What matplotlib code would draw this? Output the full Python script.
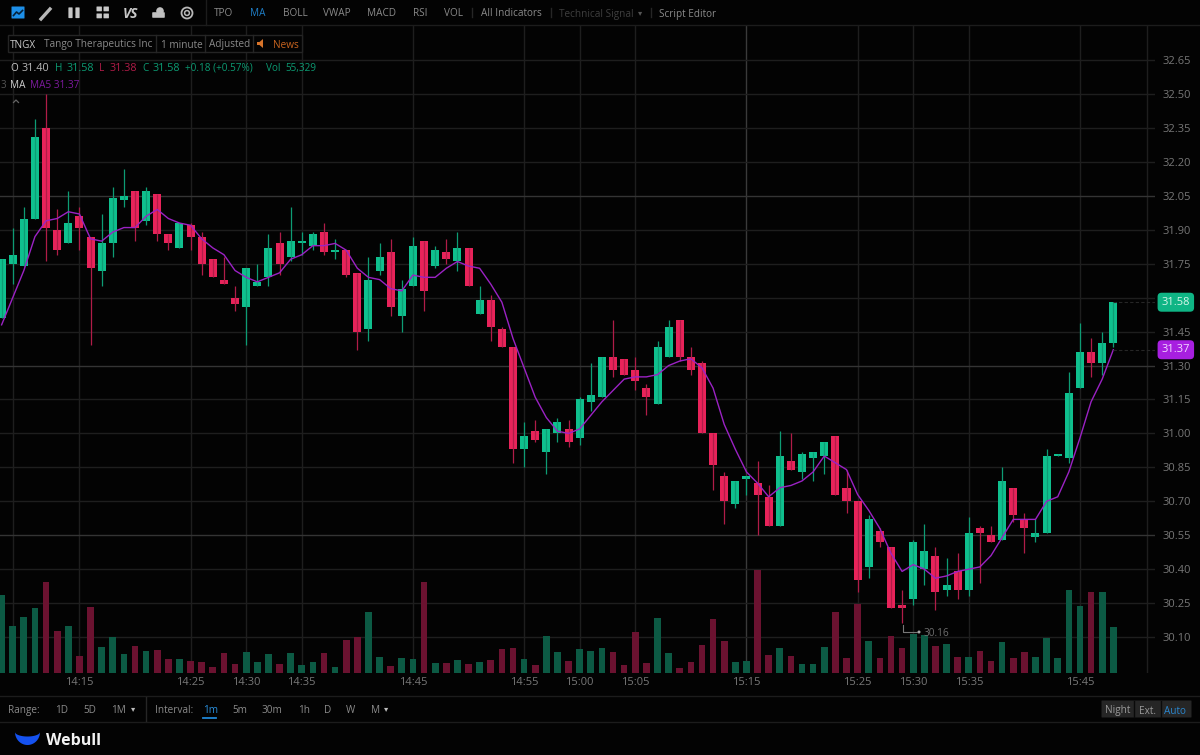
import matplotlib
matplotlib.use('Agg')
import matplotlib.pyplot as plt
from matplotlib.patches import Rectangle, Polygon, Circle, FancyBboxPatch
import numpy as np

plt.rcParams['font.family'] = ['Open Sans', 'DejaVu Sans']

# bougies 1 minute, a partir de 14:08
open_p = [31.51, 31.75, 31.74, 31.95, 32.35, 31.90, 31.84, 31.96, 31.87, 31.72,
          31.84, 32.03, 32.07, 31.94, 32.06, 31.88, 31.82, 31.92, 31.87, 31.77,
          31.68, 31.60, 31.56, 31.65, 31.69, 31.84, 31.78, 31.84, 31.83, 31.89,
          31.80, 31.81, 31.71, 31.46, 31.72, 31.80, 31.52, 31.65, 31.85, 31.74,
          31.80, 31.76, 31.82, 31.53, 31.59, 31.46, 31.38, 30.93, 31.01, 30.92,
          31.00, 31.02, 30.98, 31.14, 31.16, 31.34, 31.33, 31.28, 31.20, 31.13,
          31.34, 31.50, 31.34, 31.31, 31.00, 30.81, 30.69, 30.80, 30.78, 30.72,
          30.59, 30.88, 30.83, 30.89, 30.90, 30.99, 30.76, 30.70, 30.41, 30.57,
          30.50, 30.24, 30.27, 30.40, 30.46, 30.31, 30.39, 30.31, 30.58, 30.55,
          30.53, 30.76, 30.62, 30.54, 30.56, 30.90, 30.89, 31.20, 31.36, 31.31, 31.40]
close_p = [31.77, 31.79, 31.95, 32.31, 31.91, 31.81, 31.93, 31.91, 31.73, 31.84,
           32.04, 32.05, 31.91, 32.07, 31.88, 31.84, 31.93, 31.87, 31.75, 31.69,
           31.66, 31.57, 31.73, 31.67, 31.82, 31.75, 31.85, 31.85, 31.88, 31.80,
           31.81, 31.70, 31.45, 31.68, 31.78, 31.56, 31.64, 31.83, 31.63, 31.81,
           31.77, 31.82, 31.65, 31.59, 31.47, 31.38, 30.93, 30.99, 30.97, 31.02,
           31.05, 30.96, 31.15, 31.17, 31.34, 31.28, 31.26, 31.23, 31.16, 31.38,
           31.47, 31.34, 31.28, 31.00, 30.86, 30.70, 30.79, 30.81, 30.73, 30.59,
           30.90, 30.84, 30.91, 30.92, 30.96, 30.73, 30.70, 30.35, 30.62, 30.52,
           30.23, 30.23, 30.52, 30.48, 30.30, 30.33, 30.31, 30.56, 30.56, 30.52,
           30.79, 30.64, 30.58, 30.56, 30.90, 30.91, 31.18, 31.36, 31.31, 31.40, 31.58]
high_p = [31.77, 31.91, 32.00, 32.39, 32.50, 31.99, 32.07, 32.00, 31.87, 31.97,
          32.09, 32.17, 32.07, 32.09, 32.06, 31.88, 31.93, 31.93, 31.89, 31.77,
          31.78, 31.65, 31.73, 31.75, 31.88, 31.89, 32.00, 31.89, 31.89, 31.93,
          31.86, 31.81, 31.71, 31.78, 31.84, 31.86, 31.68, 31.87, 31.85, 31.83,
          31.86, 31.89, 31.82, 31.65, 31.61, 31.47, 31.38, 31.05, 31.06, 31.02,
          31.07, 31.06, 31.16, 31.31, 31.34, 31.50, 31.33, 31.34, 31.22, 31.41,
          31.50, 31.50, 31.38, 31.32, 31.00, 30.83, 30.79, 30.81, 30.88, 30.77,
          31.01, 31.00, 30.92, 30.92, 30.96, 30.99, 30.84, 30.70, 30.64, 30.58,
          30.50, 30.31, 30.53, 30.60, 30.50, 30.45, 30.47, 30.63, 30.59, 30.59,
          30.85, 30.76, 30.65, 30.62, 30.93, 30.91, 31.27, 31.49, 31.42, 31.45, 31.58]
low_p = [31.51, 31.66, 31.74, 31.95, 31.76, 31.79, 31.84, 31.81, 31.39, 31.65,
         31.78, 32.00, 31.85, 31.92, 31.85, 31.81, 31.82, 31.81, 31.70, 31.69,
         31.66, 31.54, 31.39, 31.65, 31.65, 31.70, 31.76, 31.79, 31.81, 31.79,
         31.77, 31.69, 31.37, 31.41, 31.70, 31.52, 31.45, 31.65, 31.54, 31.73,
         31.75, 31.72, 31.65, 31.53, 31.41, 31.38, 30.87, 30.85, 30.96, 30.82,
         30.96, 30.94, 30.95, 31.10, 31.16, 31.25, 31.26, 31.19, 31.08, 31.13,
         31.34, 31.32, 31.26, 31.00, 30.75, 30.60, 30.67, 30.73, 30.55, 30.59,
         30.59, 30.84, 30.80, 30.79, 30.82, 30.73, 30.65, 30.30, 30.36, 30.50,
         30.23, 30.16, 30.24, 30.33, 30.22, 30.28, 30.27, 30.28, 30.34, 30.52,
         30.53, 30.61, 30.47, 30.52, 30.56, 30.90, 30.87, 31.20, 31.25, 31.26, 31.38]
ma5 = [31.48, 31.60, 31.72, 31.87, 31.94, 31.95, 31.98, 31.97, 31.86, 31.85,
       31.89, 31.91, 31.91, 31.96, 31.99, 31.95, 31.93, 31.92, 31.86, 31.82,
       31.79, 31.72, 31.69, 31.67, 31.69, 31.71, 31.77, 31.79, 31.83, 31.83,
       31.84, 31.81, 31.73, 31.69, 31.68, 31.64, 31.63, 31.70, 31.69, 31.69,
       31.73, 31.76, 31.74, 31.73, 31.66, 31.58, 31.42, 31.29, 31.16, 31.07,
       31.01, 31.00, 31.02, 31.08, 31.14, 31.19, 31.24, 31.25, 31.25, 31.26,
       31.30, 31.32, 31.33, 31.29, 31.20, 31.04, 30.93, 30.83, 30.78, 30.72,
       30.76, 30.77, 30.79, 30.83, 30.90, 30.87, 30.84, 30.73, 30.66, 30.58,
       30.47, 30.39, 30.42, 30.40, 30.36, 30.37, 30.39, 30.40, 30.41, 30.46,
       30.54, 30.62, 30.62, 30.62, 30.70, 30.72, 30.83, 30.98, 31.14, 31.24, 31.37]
volume = [94900, 56600, 67500, 79200, 110300, 51300, 56600, 20200, 79600, 31100,
          43600, 23400, 32700, 26300, 27900, 16600, 17400, 14900, 13300, 7300,
          24200, 10900, 25000, 12900, 22600, 10900, 24600, 9700, 13300, 23800,
          7700, 39600, 43600, 73900, 19400, 8900, 18600, 16600, 109900, 11700,
          12100, 15400, 10500, 12900, 15400, 29500, 30700, 17000, 10100, 44400,
          25500, 14100, 29100, 26300, 30700, 25900, 9300, 49300, 12100, 67100,
          24200, 6500, 13300, 33500, 65900, 39200, 13300, 14500, 124400, 21800,
          29900, 21000, 10500, 11300, 31500, 74300, 17800, 84000, 39200, 18600,
          44800, 30700, 47300, 46100, 33100, 34700, 19800, 19400, 26700, 14500,
          37200, 18200, 25000, 19400, 42000, 18200, 100200, 80800, 97800, 97800, 55329]

price_ticks = [32.65, 32.50, 32.35, 32.20, 32.05, 31.90, 31.75, 31.60, 31.45,
               31.30, 31.15, 31.00, 30.85, 30.70, 30.55, 30.40, 30.25, 30.10]
price_labels = ['32.65', '32.50', '32.35', '32.20', '32.05', '31.90', '31.75', '', '31.45',
                '31.30', '31.15', '31.00', '30.85', '30.70', '30.55', '30.40', '30.25', '30.10']
# minutes depuis 14:08 pour les lignes verticales
time_ticks = [1, 7, 17, 22, 27, 37, 47, 52, 57, 67, 77, 82, 87, 97, 103]
time_labels = ['', '14:15', '14:25', '14:30', '14:35', '14:45', '14:55', '15:00',
               '15:05', '15:15', '15:25', '15:30', '15:35', '15:45', '']

GREEN = '#0fc08e'
RED = '#e8235a'
VOL_GREEN = '#0c5a44'
VOL_RED = '#6b1230'
PURPLE = '#9b22c4'
BG = '#030303'
LINE = '#1e1e1e'
TXT = '#8a8a8a'

W, H = 1200, 755
fig = plt.figure(figsize=(12, 7.55), dpi=100, facecolor=BG)

# zone du graphique : x de 0 a 1155 px, y de 26 a 673 px
ax = fig.add_axes([0, (H - 673) / H, 1155 / W, (673 - 26) / H], facecolor=BG)
x = np.arange(len(close_p))
ax.set_xlim(-0.144, 103.75)
ax.set_ylim(29.941, 32.801)

# volume en bas
ax_vol = ax.twinx()
ax_vol.set_ylim(0, 783500)
ax_vol.axis('off')
vol_colors = [VOL_GREEN if c >= o else VOL_RED for o, c in zip(open_p, close_p)]
ax_vol.bar(x, volume, width=0.6, color=vol_colors, linewidth=0)

# bougies + MA5
ax_price = ax.twinx()
ax_price.set_ylim(ax.get_ylim())
ax_price.axis('off')
colors = [GREEN if c >= o else RED for o, c in zip(open_p, close_p)]
wick_colors = ['#0d9c74' if c >= o else '#b01c48' for o, c in zip(open_p, close_p)]
ax_price.vlines(x, low_p, high_p, colors=wick_colors, linewidth=0.9)
bottoms = [min(o, c) for o, c in zip(open_p, close_p)]
heights = [abs(c - o) for o, c in zip(open_p, close_p)]
ax_price.bar(x, heights, bottom=bottoms, width=0.72, color=colors, linewidth=0)
ax_price.plot(x, ma5, color=PURPLE, linewidth=1.0)

# twinx remet les graduations a gauche : il faut le faire apres
ax.yaxis.tick_right()
ax.set_xticks(time_ticks)
ax.set_xticklabels(time_labels)
ax.set_yticks(price_ticks)
ax.set_yticklabels(price_labels)
ax.tick_params(axis='both', length=0, labelcolor='#777777', labelsize=8)
ax.tick_params(axis='y', pad=5.5)
ax.tick_params(axis='x', pad=3)
ax.grid(True, color=LINE, linewidth=1)
for s in list(ax.spines.values()) + list(ax_vol.spines.values()) + list(ax_price.spines.values()):
    s.set_visible(False)
for g, t in zip(ax.get_ygridlines(), price_ticks):
    if t in (32.05, 31.30, 30.55):
        g.set_color('#343434')
for g, t in zip(ax.get_xgridlines(), time_labels):
    if t == '15:15':
        g.set_color('#3a3a3a')

# dernier cours et MA a droite
ax_price.hlines([close_p[-1], ma5[-1]], x[-1], ax.get_xlim()[1], colors='#262626', linewidth=0.8,
                linestyles=(0, (3, 2)))
ax_price.annotate('%.2f' % close_p[-1], xy=(1, close_p[-1]), xycoords=ax_price.get_yaxis_transform(),
                  xytext=(15, 0), textcoords='offset points', ha='center', va='center',
                  color='#d8f5ea', fontsize=8, annotation_clip=False,
                  bbox=dict(boxstyle='round,pad=0.36', fc='#0fb585', ec='none'))
ax_price.annotate('%.2f' % ma5[-1], xy=(1, ma5[-1]), xycoords=ax_price.get_yaxis_transform(),
                  xytext=(15, 0), textcoords='offset points', ha='center', va='center',
                  color='#f3dcff', fontsize=8, annotation_clip=False,
                  bbox=dict(boxstyle='round,pad=0.36', fc='#a71fe0', ec='none'))

# interface autour du graphique, en pixels
ui = fig.add_axes([0, 0, 1, 1], facecolor='none')
ui.set_xlim(0, W)
ui.set_ylim(H, 0)
ui.axis('off')
ui.set_zorder(10)


def label(px, py, s, color=TXT, size=7.2, ha='left', **kw):
    ui.text(px, py, s, color=color, fontsize=size, ha=ha, va='center_baseline', **kw)


def hline(py, x0=0, x1=W, color='#1c1c1c'):
    ui.plot([x0, x1], [py, py], color=color, linewidth=1)


def vline(px, y0, y1, color='#262626'):
    ui.plot([px, px], [y0, y1], color=color, linewidth=1)


hline(25)
hline(696)
hline(722)
vline(206, 0, 25, '#1c1c1c')
vline(146, 697, 721)
vline(472, 8, 17)
vline(551, 8, 17)
vline(651, 8, 17)

# icones de la barre du haut
ui.add_patch(FancyBboxPatch((12, 7), 12, 11, boxstyle='round,pad=0.5', fc='#1d8fe8', ec='none'))
ui.plot([13.5, 16.5, 19, 22.5], [15.5, 12, 14, 10.5], color='#06223a', linewidth=1.2)
ui.plot([41, 50], [19, 9], color='#b8b8b8', linewidth=2.4)
ui.add_patch(FancyBboxPatch((69, 8), 3, 9.5, boxstyle='round,pad=0.6', fc='#c8c8c8', ec='none'))
ui.add_patch(FancyBboxPatch((76, 8), 3, 9.5, boxstyle='round,pad=0.6', fc='#c8c8c8', ec='none'))
for bx in (97, 104):
    for by in (7, 14):
        ui.add_patch(FancyBboxPatch((bx, by), 4.4, 3.8, boxstyle='round,pad=0.5', fc='#c8c8c8', ec='none'))
label(123, 13, 'VS', color='#c8c8c8', size=10, weight='bold', style='italic')
ui.add_patch(FancyBboxPatch((153, 13), 11, 4, boxstyle='round,pad=0.8', fc='#c0c0c0', ec='none'))
ui.add_patch(Circle((160, 11), 3.8, fc='#c0c0c0', ec='none'))
ui.add_patch(Circle((187, 13), 5.5, fc='none', ec='#b8b8b8', linewidth=1.3))
ui.add_patch(Circle((187, 13), 2.4, fc='none', ec='#b8b8b8', linewidth=1.1))

label(214, 12.5, 'TPO')
label(250, 12.5, 'MA', color='#1f7fc8')
label(283, 12.5, 'BOLL')
label(323, 12.5, 'VWAP')
label(367, 12.5, 'MACD')
label(413, 12.5, 'RSI')
label(444, 12.5, 'VOL')
label(481, 12.5, 'All Indicators')
label(559, 12.5, 'Technical Signal', color='#3e3e3e')
label(638, 12.5, '▾', color='#555555', size=6)
label(659, 12.5, 'Script Editor')

# cartouche du titre
ui.add_patch(Rectangle((8, 35), 294, 16.5, fc=BG, ec='#242424', linewidth=1))
for px in (156, 205, 253):
    vline(px, 35, 51.5)
label(10, 43.5, 'TNGX', color='#c8c8c8')
label(44, 43.5, 'Tango Therapeutics Inc', color=TXT)
label(161, 43.5, '1 minute', color=TXT)
label(209, 43.5, 'Adjusted', color=TXT)
ui.add_patch(Polygon([(257, 42), (259.5, 42), (263, 39), (263, 48), (259.5, 45), (257, 45)], fc='#d8742a', ec='none'))
label(273, 43.5, 'News', color='#c8641f')

# ligne OHLC
label(10, 67, 'O', color='#cfcfcf')
label(22, 67, '31.40', color='#b8b8b8', size=7.8)
label(55, 67, 'H', color='#0c9a72')
label(67, 67, '31.58', color='#0c9a72', size=7.8)
label(99, 67, 'L', color='#b01c48')
label(110, 67, '31.38', color='#b01c48', size=7.8)
label(142, 67, 'C', color='#0c9a72')
label(153, 67, '31.58', color='#0c9a72', size=7.8)
label(185, 67, '+0.18 (+0.57%)', color='#0c9a72')
label(266, 67, 'Vol', color='#0c9a72')
label(285, 67, '55,329', color='#0c9a72')
label(1, 84, '3', color='#555555', size=7)
label(10, 84, 'MA', color='#cfcfcf')
label(30, 84, 'MA5 31.37', color='#7d1a9e')
ui.plot([13.5, 16, 18.5], [102.5, 100, 102.5], color='#666666', linewidth=0.9)

# plus bas du jour
ui.plot([902.5, 902.5, 917], [625, 632, 632], color='#777777', linewidth=0.8)
ui.add_patch(Circle((919, 632), 1.5, fc='#aaaaaa', ec='none'))
label(924, 632.5, '30.16', color='#6e6e6e')

# barre du bas
label(8, 709, 'Range:')
label(55, 709, '1D')
label(83, 709, '5D')
label(111, 709, '1M')
label(131, 709, '▾', color='#bbbbbb', size=6)
label(155, 709, 'Interval:')
label(203, 709, '1m', color='#2a8fdc')
ui.plot([203, 216], [718, 718], color='#1f86d6', linewidth=1.3)
label(232, 709, '5m')
label(262, 709, '30m')
label(298, 709, '1h')
label(324, 709, 'D')
label(346, 709, 'W')
label(371, 709, 'M')
label(384, 709, '▾', color='#bbbbbb', size=6)

ui.add_patch(FancyBboxPatch((1102, 701), 89, 16, boxstyle='round,pad=0.5', fc='#262626', ec='none'))
vline(1134, 701, 717, '#0a0a0a')
vline(1161, 701, 717, '#0a0a0a')
label(1118, 709.5, 'Night', color='#9a9a9a', ha='center')
label(1147, 709.5, 'Ext.', color='#9a9a9a', ha='center')
label(1175, 709.5, 'Auto', color='#2a85cc', ha='center')

# logo Webull
t = np.linspace(0, np.pi, 40)
outer = np.column_stack([27.5 + 12.5 * np.cos(t), 732 + 13 * np.sin(t)])
inner = np.column_stack([27.5 - 12.5 * np.cos(t), 732 + 4.5 * np.sin(t)])
ui.add_patch(Polygon(np.vstack([outer, inner]), fc='#1552f0', ec='none'))
label(46, 739, 'Webull', color='#f2f2f2', size=11.5, weight='bold')

fig.savefig('out.png', dpi=100, facecolor=BG)
